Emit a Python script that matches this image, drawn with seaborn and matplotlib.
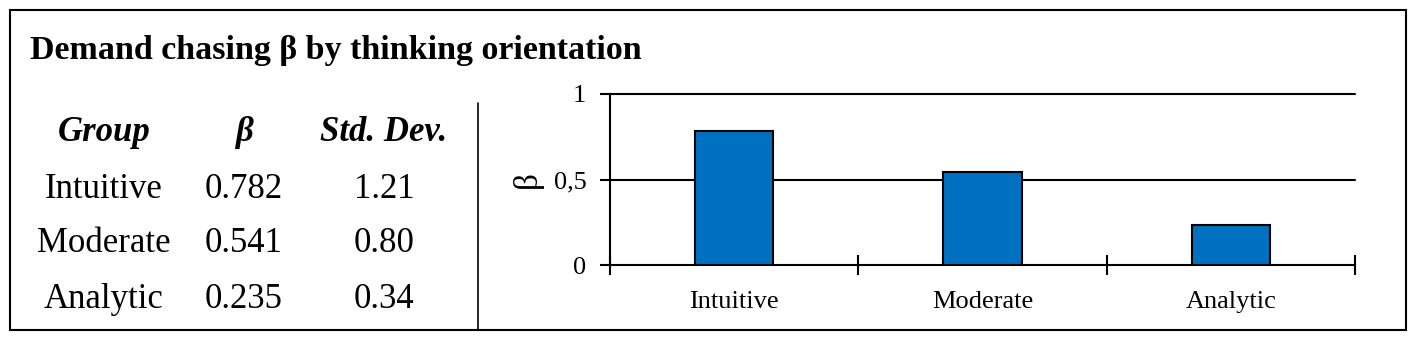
import matplotlib
matplotlib.use("Agg")
import matplotlib.pyplot as plt
import seaborn as sns
import pandas as pd
from matplotlib.patches import Rectangle
from matplotlib.lines import Line2D

# Data
groups = ["Intuitive", "Moderate", "Analytic"]
beta = [0.782, 0.541, 0.235]
std_dev = [1.21, 0.80, 0.34]
beta_labels = ["0.782", "0.541", "0.235"]
std_labels = ["1.21", "0.80", "0.34"]
y_ticks = [0, 0.5, 1]
y_tick_labels = ["0", "0,5", "1"]

sns.set_theme(style="white")
plt.rcParams["font.family"] = ["Liberation Serif", "DejaVu Serif"]
plt.rcParams["text.color"] = "black"
plt.rcParams["xtick.color"] = "black"
plt.rcParams["ytick.color"] = "black"
plt.rcParams["axes.labelcolor"] = "black"

W, H = 1417, 342
fig = plt.figure(figsize=(W / 100, H / 100), dpi=100)

# Outer frame and divider
fig.add_artist(Rectangle((10 / W, 1 - 330 / H), 1396 / W, 320 / H, transform=fig.transFigure,
                         fill=False, edgecolor="black", linewidth=1.5))
fig.add_artist(Line2D([478 / W, 478 / W], [1 - 103 / H, 1 - 330 / H], transform=fig.transFigure,
                      color="black", linewidth=1.2))

fig.text(30 / W, 1 - 51 / H, "Demand chasing β by thinking orientation", fontsize=24.5,
         fontweight="bold", va="center", ha="left")

# Table on the left
fs = 25
col_x = [104, 244, 384]
headers = ["Group", "β", "Std. Dev."]
for h, x in zip(headers, col_x):
    fig.text(x / W, 1 - 133 / H, h, fontsize=fs, fontweight="bold", style="italic",
             ha="center", va="center")
row_y = [189, 244, 299]
for g, b, s, y in zip(groups, beta_labels, std_labels, row_y):
    fig.text(col_x[0] / W, 1 - y / H, g, fontsize=fs, ha="center", va="center")
    fig.text(col_x[1] / W, 1 - y / H, b, fontsize=fs, ha="center", va="center")
    fig.text(col_x[2] / W, 1 - y / H, s, fontsize=fs, ha="center", va="center")

# Bar chart on the right
ax = fig.add_axes([610 / W, 77 / H, 745 / W, 171 / H])
df = pd.DataFrame({"group": groups, "beta": beta})
sns.barplot(data=df, x="group", y="beta", color="#0070C0", edgecolor="black", linewidth=1.5,
            width=0.315, saturation=1, ax=ax, zorder=3)

ax.set_xlim(-0.5, 2.5)
ax.set_ylim(0, 1)
ax.set_yticks(y_ticks)
ax.set_yticklabels(y_tick_labels)
for yv in y_ticks[1:]:
    ax.axhline(yv, color="black", linewidth=1.5, zorder=1, clip_on=False)

ax.set_xticks([-0.5, 0.5, 1.5, 2.5])
ax.set_xticklabels([])
ax.set_xticks(range(len(groups)), labels=groups, minor=True)
ax.tick_params(axis="x", which="minor", bottom=True, length=0, labelsize=19, pad=19)
ax.tick_params(axis="x", which="major", bottom=True, direction="inout", length=14, width=1.5)
ax.tick_params(axis="y", left=True, direction="out", length=7, width=1.5, labelsize=19, pad=10)

for side in ["top", "right"]:
    ax.spines[side].set_visible(False)
for side in ["left", "bottom"]:
    ax.spines[side].set_color("black")
    ax.spines[side].set_linewidth(1.5)

ax.set_xlabel("")
ax.set_ylabel("β", fontsize=24, labelpad=8)

fig.savefig("out.png", dpi=100)
